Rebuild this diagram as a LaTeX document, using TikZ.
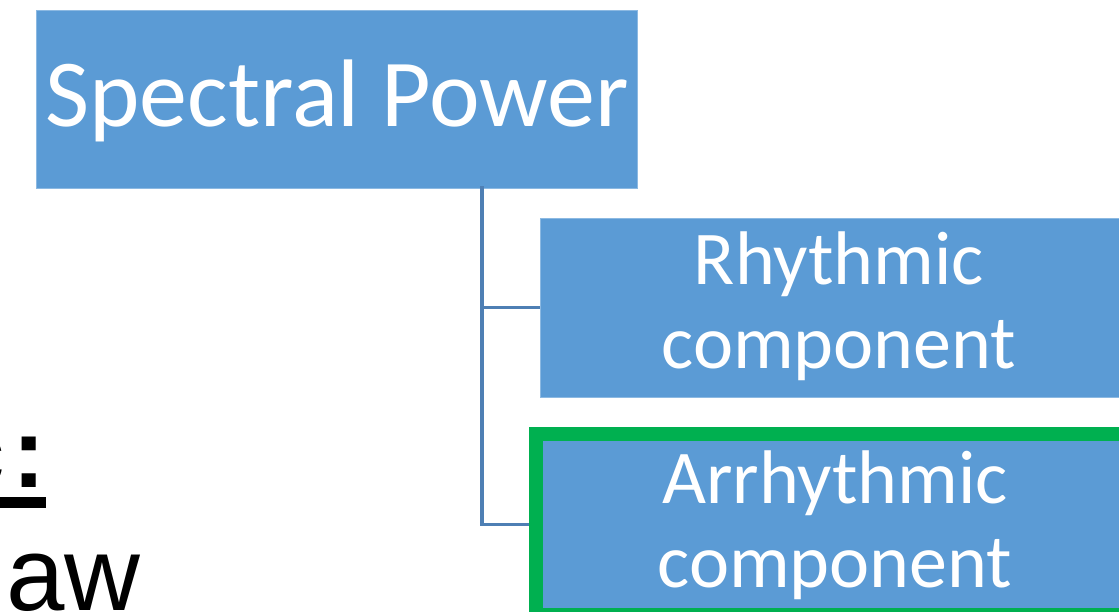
\documentclass[tikz,border=0pt]{standalone}
\usepackage{fontspec}
\setmainfont{Carlito}
\newfontfamily\arialfont{Liberation Sans}
\definecolor{boxblue}{HTML}{5B9BD5}
\definecolor{linkblue}{HTML}{4E7FB4}
\definecolor{selgreen}{HTML}{00B050}
\tikzset{
  box/.style={fill=boxblue, draw=boxblue!70!white, line width=0.8pt, inner sep=0pt},
  selbox/.style={fill=boxblue, draw=selgreen, line width=14pt, inner sep=0pt},
  boxtext/.style={text=white, inner sep=0pt, align=center},
  link/.style={draw=linkblue, line width=3.5pt},
  slidetext/.style={text=black, inner sep=0pt},
}
\begin{document}
\begin{tikzpicture}[x=1pt,y=-1pt]
\useasboundingbox (0,0) rectangle (1119,612);
\clip (0,0) rectangle (1119,612);

% slide text partly hidden behind the chart
\node[slidetext, anchor=base east, font=\arialfont\bfseries\fontsize{100}{120}\selectfont] (head) at (46,487) {c\kern7pt:};
\fill[black] (0,497) rectangle (46,508);
\node[slidetext, anchor=base west, font=\arialfont\fontsize{105}{120}\selectfont] (tail) at (6,610) {aw};

% hierarchy boxes
\node[box, minimum width=601pt, minimum height=178pt] (sp) at (336.5,99) {};
\node[box, minimum width=596pt, minimum height=179pt] (rc) at (838,307.5) {};
\node[selbox, minimum width=596pt, minimum height=181pt] (ac) at (834,524.5) {};

% labels (base anchor sits on the last line)
\node[boxtext, anchor=base, font=\fontsize{96}{110}\selectfont] (spl) at (337,127) {Spectral Power};
\node[boxtext, anchor=base, font=\fontsize{76}{83.5}\selectfont] (rcl) at (839,368) {Rhythmic\\component};
\node[boxtext, anchor=base, font=\fontsize{76}{83.5}\selectfont] (acl) at (835,587) {Arrhythmic\\component};

% connectors
\coordinate (trunk) at (sp.south -| 482,0);
\draw[link] ([yshift=2pt]trunk) |- (rc.west);
\draw[link] ([yshift=2pt]trunk) |- (ac.west);
\end{tikzpicture}
\end{document}
